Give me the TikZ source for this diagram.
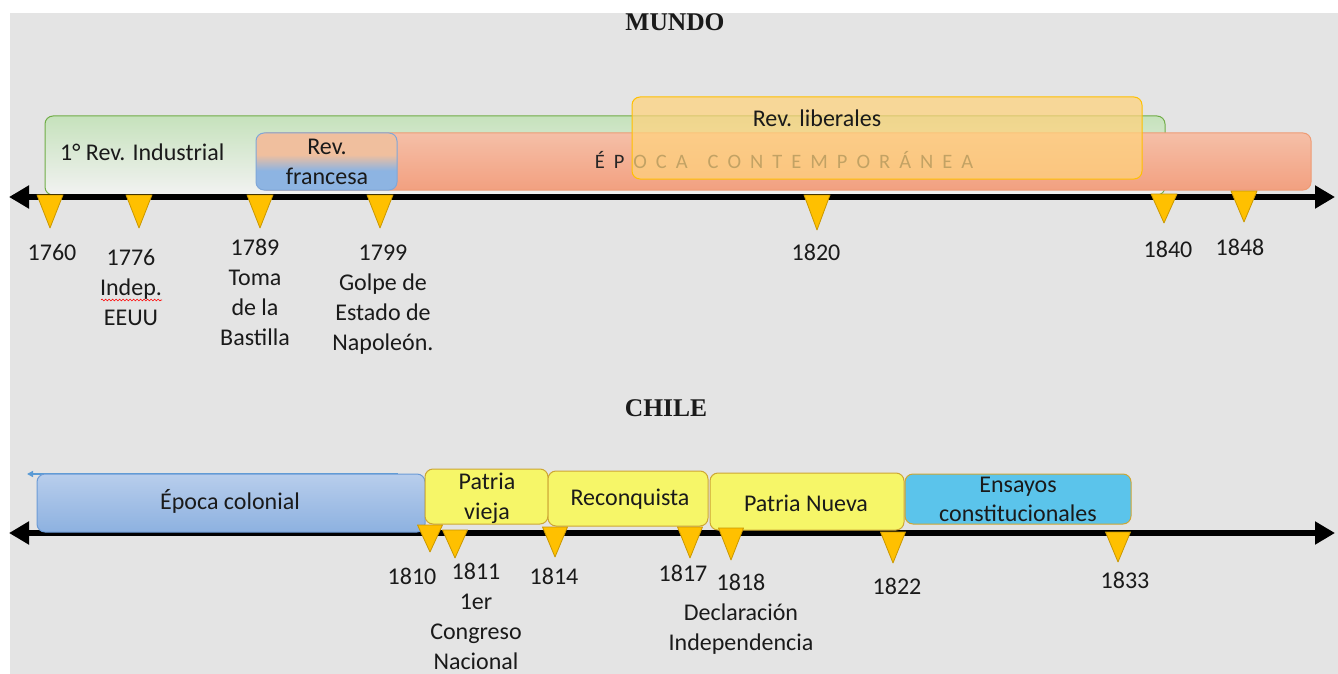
\documentclass[tikz,border=0pt]{standalone}
\usepackage{fontspec}
\setmainfont{Carlito}
\newfontfamily\titlefont{Liberation Serif}
\usetikzlibrary{arrows.meta,decorations.pathmorphing}
\definecolor{bg}{HTML}{E4E4E4}
\definecolor{textc}{HTML}{1A1A1A}
\definecolor{tri}{HTML}{FFC000}
\definecolor{triborder}{HTML}{C99700}
\definecolor{gtop}{HTML}{C6E2BC}
\definecolor{gbot}{HTML}{F2F2F2}
\definecolor{gborder}{HTML}{70AD47}
\definecolor{stop}{HTML}{F5BFA7}
\definecolor{sbot}{HTML}{F2A080}
\definecolor{sborder}{HTML}{EE9B74}
\definecolor{fblue}{HTML}{8DB4E2}
\definecolor{fsalmon}{HTML}{F0BF9E}
\definecolor{fborder}{HTML}{7FA7D8}
\definecolor{libfill}{HTML}{FFD27C}
\definecolor{libborder}{HTML}{FFC000}
\definecolor{ctop}{HTML}{B8CEEC}
\definecolor{cbot}{HTML}{8DB1E0}
\definecolor{cborder}{HTML}{6C9BD6}
\definecolor{yel}{HTML}{F6F668}
\definecolor{yborder}{HTML}{CDA634}
\definecolor{cyanb}{HTML}{5BC4EB}
\definecolor{epoc}{HTML}{262626}
\definecolor{bluel}{HTML}{5B9BD5}
\pgfdeclareverticalshading{revfr}{100bp}{color(0bp)=(fblue); color(42bp)=(fblue); color(56bp)=(fsalmon); color(100bp)=(fsalmon)}
\newcommand\lsp[1]{#1\kern 9pt}
\begin{document}
\begin{tikzpicture}[x=1pt,y=-1pt,
  box/.style={rounded corners=8pt, inner sep=0pt, line width=1pt},
  txt/.style={font=\fontsize{24}{30}\selectfont, text=textc, align=center, inner sep=0pt},
  lab/.style={txt, anchor=base},
  tri/.style={fill=tri, draw=triborder, line width=0.8pt, line join=round},
  tline/.style={line width=6pt, {Triangle[length=20pt,width=22pt]}-{Triangle[length=20pt,width=22pt]}},
  title/.style={font=\titlefont\bfseries\fontsize{25.5}{28}\selectfont, inner sep=0pt, text=textc}]
\useasboundingbox (0,0) rectangle (1338,674);
\fill[white] (0,0) rectangle (1338,674);
\fill[bg] (10,13) rectangle (1338,674);

% titles
\node[title] (mundo) at (675,22) {MUNDO};
\node[title] (chile) at (666,408) {CHILE};

% ---------- MUNDO boxes ----------
\node[box, draw=gborder, top color=gtop, bottom color=gbot, minimum width=1120pt, minimum height=79pt] (ind) at (605,155.5) {};
\node[lab, anchor=base west] (indt) at (60,160.6) {1° Rev. Industrial};
\node[box, draw=sborder, top color=stop, bottom color=sbot, minimum width=1053pt, minimum height=57pt] (cont) at (784.5,161.5) {};
\node[lab, font=\fontsize{20.5}{24}\selectfont, text=epoc] (contt) at (784,168.6) {\lsp{É}\lsp{P}\lsp{O}\lsp{C}A\hspace{20pt}\lsp{C}\lsp{O}\lsp{N}\lsp{T}\lsp{E}\lsp{M}\lsp{P}\lsp{O}\lsp{R}\lsp{Á}\lsp{N}\lsp{E}A};
\node[box, draw=fborder, shading=revfr, minimum width=141pt, minimum height=57pt] (fra) at (326.5,161.5) {};
\node[lab] (frat) at (327,184.6) {Rev.\\francesa};
\node[box, draw=libborder, fill=libfill, fill opacity=0.72, minimum width=510pt, minimum height=82pt] (lib) at (887,138) {};
\node[lab] (libt) at (817,126.6) {Rev. liberales};

% ---------- MUNDO timeline ----------
\coordinate (mL) at (9,197);
\coordinate (mR) at (1335,197);
\draw[tline] (mL) -- (mR);
\foreach \x/\t/\b in {50/195/228, 139/195/228, 260/195/228, 380/195/228, 817/195/230, 1164/194/223, 1244/191/222}
  \draw[tri] (\x-13,\t) -- (\x+13,\t) -- (\x,\b) -- cycle;

\node[lab] (y1760) at (52,260.6) {1760};
\node[lab] (y1776) at (131,325.6) {1776\\Indep.\\EEUU};
\coordinate (wavL) at (101,300);
\coordinate (wavR) at (162,300);
\draw[red, line width=0.6pt, decorate, decoration={snake, amplitude=0.9pt, segment length=3.5pt}] (wavL) -- (wavR);
\node[lab] (y1789) at (255,345.6) {1789\\Toma\\de la\\Bastilla};
\node[lab] (y1799) at (383,350.6) {1799\\Golpe de\\Estado de\\Napoleón.};
\node[lab] (y1820) at (816,260.6) {1820};
\node[lab] (y1840) at (1168,257.6) {1840};
\node[lab] (y1848) at (1240,255.6) {1848};

% ---------- CHILE timeline ----------
\coordinate (cL) at (9,533);
\coordinate (cR) at (1335,533);
\draw[tline] (cL) -- (cR);

\coordinate (colR) at (398,474);
\coordinate (colL) at (27,474);
\draw[bluel, line width=1.6pt, -{Triangle[length=6pt,width=6pt]}] (colR) -- (colL);
\node[box, draw=cborder, top color=ctop, bottom color=cbot, minimum width=388pt, minimum height=58pt] (col) at (231,503) {};
\node[lab] (colt) at (230,509.6) {Época colonial};
\node[box, draw=yborder, fill=yel, minimum width=123pt, minimum height=55pt] (pv) at (486.5,496.5) {};
\node[lab] (pvt) at (487,519.6) {Patria\\vieja};
\node[box, draw=yborder, fill=yel, minimum width=160pt, minimum height=55pt] (rec) at (628,498.5) {};
\node[lab] (rect) at (630,505.6) {Reconquista};
\node[box, draw=yborder, fill=yel, minimum width=194pt, minimum height=57pt] (pn) at (807,501.5) {};
\node[lab] (pnt) at (806,511.6) {Patria Nueva};
\node[box, draw=yborder, fill=cyanb, minimum width=226pt, minimum height=50pt] (ens) at (1018,499) {};
\node[lab, font=\fontsize{24}{29}\selectfont] (enst) at (1018,521.6) {Ensayos\\constitucionales};

\foreach \x/\t/\b in {430/525/552, 455/530/558, 555/527/557, 690/527/558, 731/528/560, 893/532/563, 1118/532/562}
  \draw[tri] (\x-12.5,\t) -- (\x+12.5,\t) -- (\x,\b) -- cycle;

\node[lab] (y1810) at (412,584.6) {1810};
\node[lab] (y1811) at (476,669.6) {1811\\1er\\Congreso\\Nacional};
\node[lab] (y1814) at (554,584.6) {1814};
\node[lab] (y1817) at (683,581.6) {1817};
\node[lab] (y1818) at (741,650.6) {1818\\Declaración\\Independencia};
\node[lab] (y1822) at (897,594.6) {1822};
\node[lab] (y1833) at (1125,588.6) {1833};
\end{tikzpicture}
\end{document}
